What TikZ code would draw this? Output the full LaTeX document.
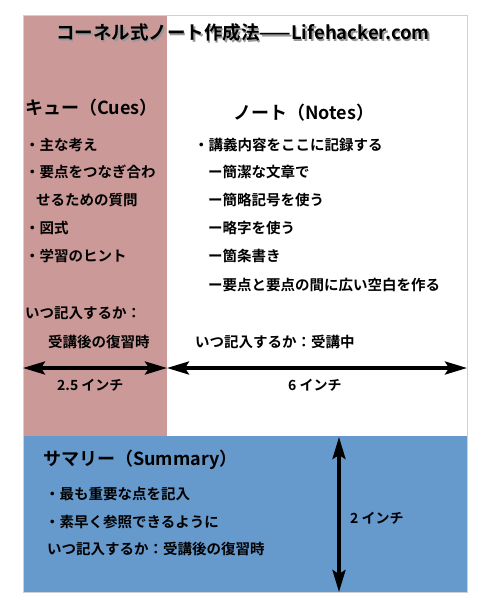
\documentclass[tikz,border=0pt]{standalone}
\usepackage{fontspec}
\setmainfont{Noto Sans CJK JP}[BoldFont=* Bold]
\usetikzlibrary{arrows.meta}
\definecolor{cuepink}{HTML}{CC9999}
\definecolor{sumblue}{HTML}{6699CC}
\definecolor{framegray}{HTML}{D0D0D0}
\newcommand{\titletext}{コーネル式ノート作成法——Lifehacker.com}
\tikzset{
  txt/.style={anchor=west,inner sep=0pt,font=\bfseries\fontsize{14.5}{16}\selectfont},
  head/.style={anchor=west,inner sep=0pt,font=\bfseries\fontsize{18}{20}\selectfont},
  dimarrow/.style={line width=3.5pt,{Stealth[length=22pt,width=13pt,inset=4pt]}-{Stealth[length=22pt,width=13pt,inset=4pt]}},
  dimlabel/.style={anchor=west,inner sep=0pt,font=\bfseries\fontsize{14}{16}\selectfont}
}
\begin{document}
\begin{tikzpicture}[x=1pt,y=-1pt]
\useasboundingbox (0,0) rectangle (490,614);
\fill[white] (0,0) rectangle (490,614);
% regions
\fill[cuepink] (23,15) rectangle (167,436);
\fill[sumblue] (23,436) rectangle (467,592);
\draw[framegray,line width=0.8pt] (23,15) rectangle (467,592);
% title with shadow (shadow drawn inside the same node)
\node[anchor=center,inner sep=0pt,font=\bfseries\fontsize{18.5}{21}\selectfont] (title) at (243,33.5)
  {\makebox[0pt][l]{\raisebox{-2pt}{\hspace{1.5pt}\textcolor{black!40}{\titletext}}}\titletext};
% cues
\node[head] (cuehead) at (25,108) {キュー（Cues）};
\node[txt] (c1) at (25,145) {・主な考え};
\node[txt] (c2) at (25,172) {・要点をつなぎ合わ};
\node[txt] (c3) at (36,200) {せるための質問};
\node[txt] (c4) at (25,228) {・図式};
\node[txt] (c5) at (25,256) {・学習のヒント};
\node[txt] (cwhen1) at (25,313) {いつ記入するか：};
\node[txt] (cwhen2) at (48,342) {受講後の復習時};
% notes
\node[head] (notehead) at (233,113) {ノート（Notes）};
\node[txt] (n1) at (194,145) {・講義内容をここに記録する};
\node[txt] (n2) at (208,172) {ー簡潔な文章で};
\node[txt] (n3) at (208,200) {ー簡略記号を使う};
\node[txt] (n4) at (208,228) {ー略字を使う};
\node[txt] (n5) at (208,256) {ー箇条書き};
\node[txt] (n6) at (208,285) {ー要点と要点の間に広い空白を作る};
\node[txt] (nwhen) at (195,342) {いつ記入するか：受講中};
% width arrows
\coordinate (wl) at (23,368);
\coordinate (wm) at (167,368);
\coordinate (wr) at (467,368);
\draw[dimarrow] (wl) -- (wm);
\draw[dimarrow] (wm) -- (wr);
\node[dimlabel] (w1) at (57,385) {2.5 インチ};
\node[dimlabel] (w2) at (288,385) {6 インチ};
% summary
\node[head] (sumhead) at (43,460) {サマリー（Summary）};
\node[txt] (s1) at (45,494) {・最も重要な点を記入};
\node[txt] (s2) at (45,522) {・素早く参照できるように};
\node[txt] (s3) at (47,549) {いつ記入するか：受講後の復習時};
\coordinate (ht) at (339,437);
\coordinate (hb) at (339,592);
\draw[dimarrow] (ht) -- (hb);
\node[dimlabel] (h1) at (350,518) {2 インチ};
\end{tikzpicture}
\end{document}
